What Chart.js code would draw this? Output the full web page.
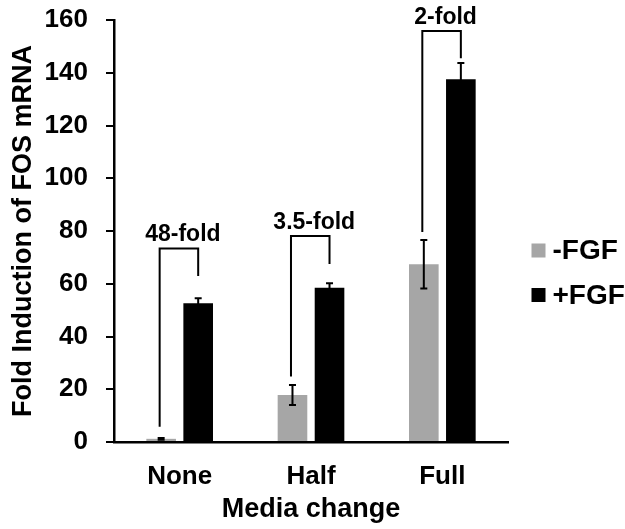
<!DOCTYPE html>
<html>
<head>
<meta charset="utf-8">
<script src="https://cdn.jsdelivr.net/npm/chart.js@4.4.1/dist/chart.umd.min.js"></script>
<style>
  html, body { margin: 0; padding: 0; background: #fff; }
  #c { display: block; }
</style>
</head>
<body>
<canvas id="c" width="625" height="529"></canvas>
<script>
// ---- data ----
const categories = ['None', 'Half', 'Full'];
const seriesNames = ['-FGF', '+FGF'];
const minusFGF = [1.2, 17.8, 67.4];
const plusFGF = [52.6, 58.5, 137.5];
const minusFGFErr = [0.3, 3.8, 9.2];
const plusFGFErr = [1.9, 1.7, 6.2];
const foldLabels = ['48-fold', '3.5-fold', '2-fold'];
const bracketTop = [73.4, 78.1, 155.8];
const bracketLeftEnd = [5.8, 24.8, 79.6];
const bracketRightEnd = [62.9, 67.5, 145.5];
const yMin = 0, yMax = 160, yStep = 20;
const yTitle = 'Fold Induction of FOS mRNA';
const xTitle = 'Media change';

const FONT = "'Liberation Sans', Arial, Helvetica, sans-serif";
const GRAY = '#a6a6a6';
const BLACK = '#000000';

const errors = [minusFGFErr, plusFGFErr];

const overlay = {
  id: 'overlay',
  afterDatasetsDraw(chart) {
    const ctx = chart.ctx;
    const y = chart.scales.y;
    ctx.save();
    ctx.strokeStyle = BLACK;
    ctx.lineWidth = 2;
    chart.data.datasets.forEach((ds, di) => {
      const meta = chart.getDatasetMeta(di);
      meta.data.forEach((bar, i) => {
        const v = ds.data[i], e = errors[di][i];
        const yt = y.getPixelForValue(v + e);
        const yb = y.getPixelForValue(v - e);
        const x = bar.x;
        ctx.beginPath();
        ctx.moveTo(x, yt); ctx.lineTo(x, yb);
        ctx.moveTo(x - 3.5, yt); ctx.lineTo(x + 3.5, yt);
        ctx.moveTo(x - 3.5, yb); ctx.lineTo(x + 3.5, yb);
        ctx.stroke();
      });
    });
    ctx.restore();
  },
  afterDraw(chart) {
    const ctx = chart.ctx;
    const y = chart.scales.y;
    const m0 = chart.getDatasetMeta(0), m1 = chart.getDatasetMeta(1);
    ctx.save();
    ctx.strokeStyle = BLACK;
    ctx.lineWidth = 2;
    ctx.fillStyle = BLACK;
    ctx.font = 'bold 23px ' + FONT;
    ctx.textAlign = 'center';
    ctx.textBaseline = 'alphabetic';
    categories.forEach((c, i) => {
      const xl = m0.data[i].x - 1.5, xr = m1.data[i].x;
      const yt = y.getPixelForValue(bracketTop[i]);
      ctx.beginPath();
      ctx.moveTo(xl, y.getPixelForValue(bracketLeftEnd[i]));
      ctx.lineTo(xl, yt);
      ctx.lineTo(xr, yt);
      ctx.lineTo(xr, y.getPixelForValue(bracketRightEnd[i]));
      ctx.stroke();
      ctx.fillText(foldLabels[i], (xl + xr) / 2 + 4, yt - 7);
    });
    // legend
    const lx = 531.5, ly0 = 250.5, dy = 44.5;
    ctx.textAlign = 'left';
    ctx.textBaseline = 'middle';
    ctx.font = 'bold 28px ' + FONT;
    [GRAY, BLACK].forEach((col, k) => {
      const cy = ly0 + k * dy;
      ctx.fillStyle = col;
      ctx.fillRect(lx, cy - 7, 14, 14);
      ctx.fillStyle = BLACK;
      ctx.fillText(seriesNames[k], lx + 21, cy + 1);
    });
    ctx.restore();
  }
};

new Chart(document.getElementById('c'), {
  type: 'bar',
  data: {
    labels: categories,
    datasets: [
      { label: seriesNames[0], data: minusFGF, backgroundColor: GRAY, borderWidth: 0 },
      { label: seriesNames[1], data: plusFGF, backgroundColor: BLACK, borderWidth: 0 }
    ]
  },
  options: {
    responsive: false,
    animation: false,
    devicePixelRatio: 1,
    datasets: { bar: { categoryPercentage: 0.564, barPercentage: 0.8 } },
    layout: { padding: { left: 0, top: 20, right: 117, bottom: 0 } },
    plugins: { legend: { display: false }, tooltip: { enabled: false } },
    scales: {
      x: {
        grid: { display: false },
        border: { display: true, color: BLACK, width: 2.5 },
        ticks: { color: BLACK, padding: 11, font: { family: FONT, size: 26, weight: 'bold' } },
        title: { display: true, text: xTitle, color: BLACK, padding: { top: 0, bottom: 3 },
                 font: { family: FONT, size: 27, weight: 'bold' } },
        afterFit(s) { s.height = 87; s.paddingLeft = 0; s.paddingRight = 0; }
      },
      y: {
        min: yMin, max: yMax,
        ticks: { stepSize: yStep, color: BLACK, padding: 18, font: { family: FONT, size: 26, weight: 'bold' } },
        grid: { drawOnChartArea: false, drawTicks: true, tickLength: 8, color: BLACK, lineWidth: 2 },
        border: { display: true, color: BLACK, width: 2.5 },
        title: { display: true, text: yTitle, color: BLACK, padding: { top: 7, bottom: 0 },
                 font: { family: FONT, size: 27, weight: 'bold' } },
        afterFit(s) { s.width = 114; s.paddingTop = 0; s.paddingBottom = 0; }
      }
    }
  },
  plugins: [overlay]
});
</script>
</body>
</html>
